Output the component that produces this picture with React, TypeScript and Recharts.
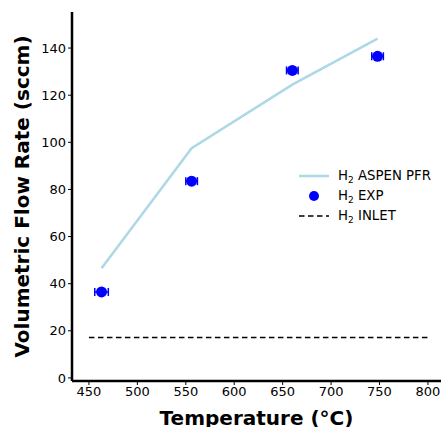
import React from "react";
import {
  ComposedChart,
  Line,
  Scatter,
  XAxis,
  YAxis,
  ErrorBar,
} from "recharts";

// ASPEN PFR model
const aspenTemp = [463, 556, 660, 748];
const aspenFlow = [46.5, 97.5, 124.5, 144];

// experimental points
const expTemp = [463, 556, 660, 748];
const expFlow = [36.5, 83.5, 130.5, 136.5];
const expTempErr = [7, 6, 6, 6];

// inlet flow
const inletTemp = [450, 800];
const inletFlow = [17.2, 17.2];

const xTicks = [450, 500, 550, 600, 650, 700, 750, 800];
const yTicks = [0, 20, 40, 60, 80, 100, 120, 140];

const aspenData = aspenTemp.map((t, i) => ({ t, v: aspenFlow[i] }));
const expData = expTemp.map((t, i) => ({ t, v: expFlow[i], err: expTempErr[i] }));
const inletData = inletTemp.map((t, i) => ({ t, v: inletFlow[i] }));

const FONT = "'DejaVu Sans', sans-serif";

const legendItems = [
  { label: "ASPEN PFR", kind: "line" },
  { label: "EXP", kind: "dot" },
  { label: "INLET", kind: "dash" },
];

const LegendBox = () => (
  <div
    style={{
      position: "absolute",
      left: 296,
      top: 166,
      fontFamily: FONT,
      fontSize: 13.3,
      color: "#000",
      lineHeight: "20px",
    }}
  >
    {legendItems.map((it) => (
      <div key={it.label} style={{ display: "flex", alignItems: "center" }}>
        <svg width={36} height={20}>
          {it.kind === "line" && <line x1={3} x2={33} y1={10} y2={10} stroke="#add8e6" strokeWidth={2.5} />}
          {it.kind === "dot" && <circle cx={18} cy={10} r={5} fill="#0000ff" />}
          {it.kind === "dash" && <line x1={3} x2={33} y1={10} y2={10} stroke="#000" strokeWidth={1.5} strokeDasharray="5.5 3.5" />}
        </svg>
        <span style={{ marginLeft: 6 }}>
          H<sub style={{ fontSize: 9, verticalAlign: "-3px", lineHeight: 0 }}>2</sub> {it.label}
        </span>
      </div>
    ))}
  </div>
);

const Dot = (p: any) => <circle cx={p.cx} cy={p.cy} r={5.5} fill="#0000ff" />;

export default function App() {
  return (
    <div style={{ position: "absolute", left: 0, top: 0, width: 441, height: 427, background: "#fff", overflow: "hidden" }}>
      <ComposedChart width={441} height={427} margin={{ top: 12, right: 0, bottom: 0, left: 0 }}>
        <XAxis
          xAxisId="top"
          orientation="top"
          type="number"
          dataKey="t"
          domain={[432.5, 813.5]}
          allowDataOverflow
          tick={false}
          tickLine={false}
          height={0}
          axisLine={{ stroke: "#000", strokeWidth: 2.5 }}
        />
        <XAxis
          type="number"
          dataKey="t"
          domain={[432.5, 813.5]}
          allowDataOverflow
          ticks={xTicks}
          tickSize={4}
          height={46}
          axisLine={{ stroke: "#000", strokeWidth: 2.5 }}
          tickLine={{ stroke: "#000", strokeWidth: 1 }}
          tick={{ fill: "#000", fontSize: 13, fontFamily: FONT }}
          label={{
            value: "Temperature (°C)",
            position: "insideBottom",
            offset: 2,
            fill: "#000",
            fontSize: 20,
            fontWeight: "bold",
            fontFamily: FONT,
          }}
        />
        <YAxis
          type="number"
          domain={[-1.3, 155.3]}
          allowDataOverflow
          ticks={yTicks}
          tickSize={4}
          width={72}
          axisLine={{ stroke: "#000", strokeWidth: 2.5 }}
          tickLine={{ stroke: "#000", strokeWidth: 1 }}
          tick={{ fill: "#000", fontSize: 13, fontFamily: FONT }}
          label={{
            value: "Volumetric Flow Rate (sccm)",
            angle: -90,
            position: "insideLeft",
            offset: 22,
            style: { textAnchor: "middle" },
            fill: "#000",
            fontSize: 20,
            fontWeight: "bold",
            fontFamily: FONT,
          }}
        />
        <Line
          data={aspenData}
          dataKey="v"
          stroke="#add8e6"
          strokeWidth={2.5}
          dot={false}
          activeDot={false}
          isAnimationActive={false}
        />
        <Line
          data={inletData}
          dataKey="v"
          stroke="#000"
          strokeWidth={1.5}
          strokeDasharray="5.5 3.5"
          dot={false}
          activeDot={false}
          isAnimationActive={false}
        />
        <Scatter data={expData} dataKey="v" shape={Dot} isAnimationActive={false}>
          <ErrorBar dataKey="err" direction="x" width={4} stroke="#0000ff" strokeWidth={1.5} />
        </Scatter>
      </ComposedChart>
      <LegendBox />
    </div>
  );
}
